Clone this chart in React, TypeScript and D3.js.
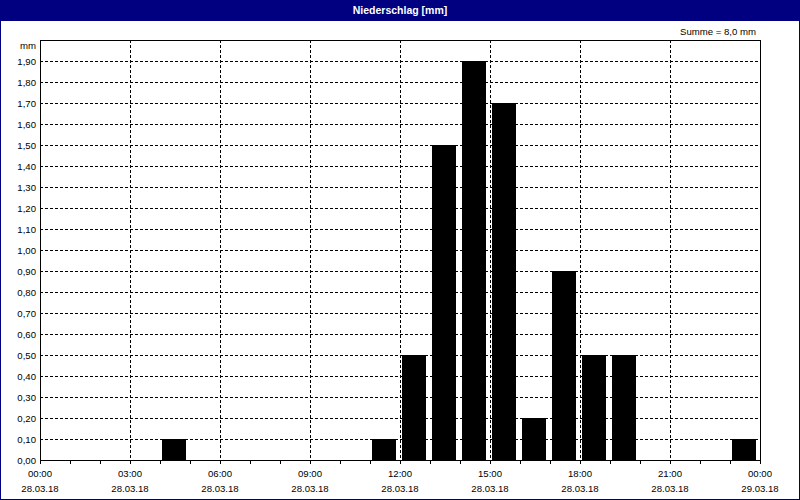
import React from "react";
import * as d3 from "d3";

const hours: number[] = [4, 11, 12, 13, 14, 15, 16, 17, 18, 19, 23];
const values: number[] = [0.1, 0.1, 0.5, 1.5, 1.9, 1.7, 0.2, 0.9, 0.5, 0.5, 0.1];
const yTicks: number[] = [0, 0.1, 0.2, 0.3, 0.4, 0.5, 0.6, 0.7, 0.8, 0.9, 1.0, 1.1, 1.2, 1.3, 1.4, 1.5, 1.6, 1.7, 1.8, 1.9];
const xMajor: number[] = [0, 3, 6, 9, 12, 15, 18, 21, 24];
const xTimeLabels: string[] = ["00:00", "03:00", "06:00", "09:00", "12:00", "15:00", "18:00", "21:00", "00:00"];
const xDateLabels: string[] = ["28.03.18", "28.03.18", "28.03.18", "28.03.18", "28.03.18", "28.03.18", "28.03.18", "28.03.18", "29.03.18"];
const title = "Niederschlag [mm]";
const sumLabel = "Summe = 8,0 mm";
const unitLabel = "mm";

const W = 800, H = 500;
const L = 40, R = 760, T = 40, B = 460;
const FONT = "'Liberation Sans', Arial, sans-serif";
const FS = 9.6;

export default function App() {
  const x = d3.scaleLinear().domain([0, 24]).range([L, R]);
  const y = d3.scaleLinear().domain([0, 2]).range([B, T]);
  const fmt = (v: number) => v.toFixed(2).replace(".", ",");
  const hourTicks = d3.range(0, 25);
  const slot = x(1) - x(0);
  return (
    <svg width={W} height={H} style={{ position: "absolute", left: 0, top: 0, display: "block" }}
      fontFamily={FONT}>
      <g shapeRendering="crispEdges">
        <rect x={0} y={0} width={W} height={H} fill="#ffffff" />
        <rect x={0.5} y={0.5} width={W - 1} height={H - 1} fill="none" stroke="#000080" />
        <rect x={0} y={0} width={W} height={21} fill="#000080" />
        {/* horizontal grid */}
        {yTicks.filter(v => v > 0).map(v => (
          <line key={"hg" + v} x1={L} x2={R} y1={Math.round(y(v)) + 0.5} y2={Math.round(y(v)) + 0.5}
            stroke="#000" strokeDasharray="3,2" />
        ))}
        {/* vertical grid */}
        {xMajor.filter(h => h > 0 && h < 24).map(h => (
          <line key={"vg" + h} x1={x(h) + 0.5} x2={x(h) + 0.5} y1={T} y2={B}
            stroke="#000" strokeDasharray="3,2" />
        ))}
        {/* bars */}
        {hours.map((h, i) => (
          <rect key={"b" + h} x={x(h) + 2} width={slot - 6} y={y(values[i])} height={B - y(values[i])} fill="#000000" />
        ))}
        {/* plot border */}
        <rect x={L + 0.5} y={T + 0.5} width={R - L} height={B - T} fill="none" stroke="#000" />
        {/* x ticks */}
        {hourTicks.map(h => (
          <line key={"xt" + h} x1={x(h) + 0.5} x2={x(h) + 0.5} y1={B} y2={B + 4} stroke="#000" />
        ))}
      </g>
      <text x={W / 2} y={14} textAnchor="middle" fill="#ffffff" fontSize={10.5} fontWeight="bold">{title}</text>
      <text x={756} y={34.5} textAnchor="end" fill="#000000" fontSize={FS}>{sumLabel}</text>
      {/* y labels */}
      {yTicks.map(v => (
        <text key={"yl" + v} x={36} y={y(v) + 3.5} textAnchor="end" fontSize={FS} fill="#000">{fmt(v)}</text>
      ))}
      <text x={36} y={49} textAnchor="end" fontSize={FS} fill="#000">{unitLabel}</text>
      {/* x labels */}
      {xMajor.map((h, i) => (
        <g key={"xl" + i}>
          <text x={x(h)} y={476.5} textAnchor="middle" fontSize={FS} fill="#000">{xTimeLabels[i]}</text>
          <text x={x(h)} y={492} textAnchor="middle" fontSize={FS} fill="#000">{xDateLabels[i]}</text>
        </g>
      ))}
    </svg>
  );
}
